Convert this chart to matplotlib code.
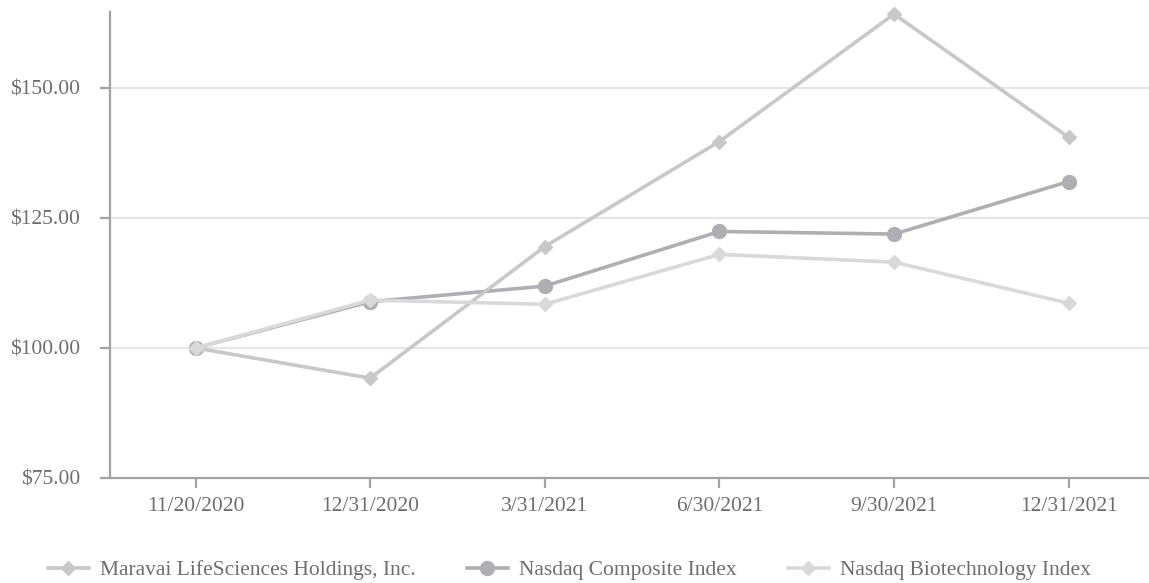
import matplotlib
matplotlib.use("Agg")
import matplotlib.pyplot as plt

dates = ["11/20/2020", "12/31/2020", "3/31/2021", "6/30/2021", "9/30/2021", "12/31/2021"]
maravai = [100.0, 94.2, 119.5, 139.7, 164.2, 140.5]
composite = [100.0, 108.9, 111.9, 122.4, 121.9, 132.0]
biotech = [100.0, 109.2, 108.4, 118.0, 116.5, 108.6]
yticks = [75, 100, 125, 150]
names = ["Maravai LifeSciences Holdings, Inc.", "Nasdaq Composite Index", "Nasdaq Biotechnology Index"]

plt.rcParams['font.family'] = ['Liberation Serif', 'DejaVu Serif']
fs = 15.5
txt = '#6e6e6e'
spine_c = '#a3a3a3'

fig = plt.figure(figsize=(11.49, 5.83), dpi=100)
ax = fig.add_axes([110/1149, 105/583, 1 - 110/1149, (478-12)/583])

x = list(range(len(dates)))
h2, = ax.plot(x, composite, color='#afafb3', lw=2.6, marker='o', ms=10, clip_on=False, zorder=3, label=names[1])
h1, = ax.plot(x, maravai, color='#c8c8c8', lw=2.6, marker='D', ms=7.5, clip_on=False, zorder=4, label=names[0])
h3, = ax.plot(x, biotech, color='#d9d9d9', lw=2.6, marker='D', ms=7.5, clip_on=False, zorder=5, label=names[2])

ax.set_xlim(-0.49, 5.46)
ax.set_ylim(75, 164.6)
ax.set_xticks(x)
ax.set_xticklabels(dates)
ax.set_yticks(yticks)
ax.set_yticklabels([f"${v:.2f}" for v in yticks])
ax.grid(axis='y', color='#e6e6e6', lw=1.5, zorder=0)
ax.set_axisbelow(True)
for s in ['top', 'right']:
    ax.spines[s].set_visible(False)
for s in ['left', 'bottom']:
    ax.spines[s].set_color(spine_c)
    ax.spines[s].set_linewidth(1.6)
ax.tick_params(axis='both', colors=spine_c, labelcolor=txt, labelsize=fs, length=7.5, width=1.6)
ax.tick_params(axis='y', pad=14)
ax.tick_params(axis='x', pad=6)

fig.legend(handles=[h1, h2, h3], loc='center left', bbox_to_anchor=(48/1149, 1 - 570/583),
           ncol=3, frameon=False, fontsize=fs, labelcolor=txt, handlelength=1.9,
           handletextpad=0.5, columnspacing=2.4, borderpad=0, borderaxespad=0)

fig.savefig("out.png", dpi=100)
